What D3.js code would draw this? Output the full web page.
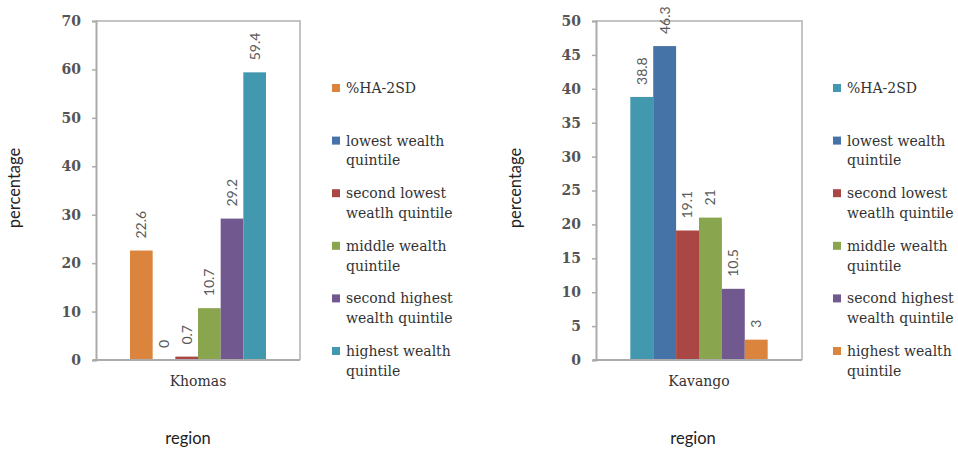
<!DOCTYPE html>
<html><head><meta charset="utf-8">
<script src="https://cdn.jsdelivr.net/npm/d3@7/dist/d3.min.js"></script>
<style>
html,body{margin:0;padding:0;background:#fff;}
svg{display:block;}
</style></head>
<body>
<svg id="chart" width="958" height="449"></svg>
<script>
// ---- data ----
const seriesNames = ["%HA-2SD","lowest wealth quintile","second lowest weatlh quintile","middle wealth quintile","second highest wealth quintile","highest wealth quintile"];
const legendLines = [["%HA-2SD"],["lowest wealth","quintile"],["second lowest","weatlh quintile"],["middle wealth","quintile"],["second highest","wealth quintile"],["highest wealth","quintile"]];
const khomasRegion = ["Khomas"];
const khomasValues = [22.6, 0, 0.7, 10.7, 29.2, 59.4];
const khomasColors = ["#DB843D","#4572A7","#AA4643","#89A54E","#71588F","#4198AF"];
const khomasTicks = [0,10,20,30,40,50,60,70];
const kavangoRegion = ["Kavango"];
const kavangoValues = [38.8, 46.3, 19.1, 21, 10.5, 3];
const kavangoColors = ["#4198AF","#4572A7","#AA4643","#89A54E","#71588F","#DB843D"];
const kavangoTicks = [0,5,10,15,20,25,30,35,40,45,50];

const svg = d3.select("#chart");

function drawPanel(cfg){
  const g = svg.append("g");
  const x0 = d3.scaleBand().domain(cfg.region).range([cfg.left, cfg.right]).paddingInner(0).paddingOuter(0.25);
  const x1 = d3.scaleBand().domain(d3.range(cfg.values.length)).range([0, x0.bandwidth()]);
  const y = d3.scaleLinear().domain([0, cfg.max]).range([cfg.bottom, cfg.top]);

  // frame (top & right)
  g.append("path")
    .attr("d", `M${cfg.left},${cfg.top}H${cfg.right}V${cfg.bottom}`)
    .attr("fill","none").attr("stroke","#C4C4C4").attr("stroke-width",2);

  // bars
  cfg.region.forEach(r => {
    g.selectAll("rect.bar").data(cfg.values).enter().append("rect")
      .attr("x",(d,i)=>x0(r)+x1(i))
      .attr("y",d=>y(d))
      .attr("width",x1.bandwidth())
      .attr("height",d=>y(0)-y(d))
      .attr("fill",(d,i)=>cfg.colors[i]);
    // value labels
    g.selectAll("text.val").data(cfg.values).enter().append("text")
      .attr("transform",(d,i)=>`translate(${x0(r)+x1(i)+x1.bandwidth()/2},${y(d)-12}) rotate(-90)`)
      .attr("dy","0.35em")
      .attr("text-anchor","start")
      .attr("font-family","Lato, 'Open Sans', sans-serif")
      .attr("font-size",14)
      .attr("fill","#595959")
      .text(d=>d);
  });

  // y axis
  const yAxis = d3.axisLeft(y).tickValues(cfg.ticks).tickSize(4).tickPadding(11).tickFormat(d3.format("d"));
  const ya = g.append("g").attr("transform",`translate(${cfg.left},0)`).call(yAxis);
  ya.select(".domain").attr("stroke","#ABABAB").attr("stroke-width",2);
  ya.selectAll(".tick line").attr("stroke","#ABABAB").attr("stroke-width",1.5);
  ya.selectAll(".tick text").attr("font-family","'DejaVu Serif', serif").attr("font-size",14).attr("font-weight","bold").attr("fill","#555");

  // x axis
  const xAxis = d3.axisBottom(x0).tickSize(0).tickPadding(16);
  const xa = g.append("g").attr("transform",`translate(0,${cfg.bottom})`).call(xAxis);
  xa.select(".domain").attr("stroke","#ABABAB").attr("stroke-width",2)
    .attr("d",`M${cfg.left-3},0H${cfg.right}`);
  xa.selectAll(".tick text").attr("font-family","'DejaVu Serif', serif").attr("font-size",14).attr("fill","#333");

  // axis titles
  g.append("text").attr("transform",`translate(${cfg.ytitleX},188) rotate(-90)`)
    .attr("text-anchor","middle").attr("font-family","Lato, sans-serif").attr("font-size",16.5).attr("fill","#222")
    .text("percentage");
  g.append("text").attr("x",cfg.xtitleX).attr("y",444)
    .attr("text-anchor","middle").attr("font-family","Lato, sans-serif").attr("font-size",16.5).attr("fill","#222")
    .text("region");

  // legend
  const lg = g.append("g").attr("transform",`translate(${cfg.legendX},0)`);
  const item = lg.selectAll("g").data(legendLines).enter().append("g")
    .attr("transform",(d,i)=>`translate(0,${88 + i*52.6})`);
  item.append("rect").attr("x",0).attr("y",-4).attr("width",8).attr("height",8)
    .attr("fill",(d,i)=>cfg.colors[i]);
  item.each(function(lines){
    const t = d3.select(this).append("text").attr("x",14).attr("y",0)
      .attr("font-family","'DejaVu Serif', serif").attr("font-size",14).attr("fill","#333");
    lines.forEach((l,j)=>t.append("tspan").attr("x",14).attr("dy", j===0 ? "0.35em" : 20).text(l));
  });
}

drawPanel({region:khomasRegion, values:khomasValues, colors:khomasColors, ticks:khomasTicks, max:70,
  left:96, right:300, top:21, bottom:360, ytitleX:20, xtitleX:188, legendX:332});
drawPanel({region:kavangoRegion, values:kavangoValues, colors:kavangoColors, ticks:kavangoTicks, max:50,
  left:596, right:802, top:21, bottom:360, ytitleX:521, xtitleX:693, legendX:833});
</script>
</body></html>
